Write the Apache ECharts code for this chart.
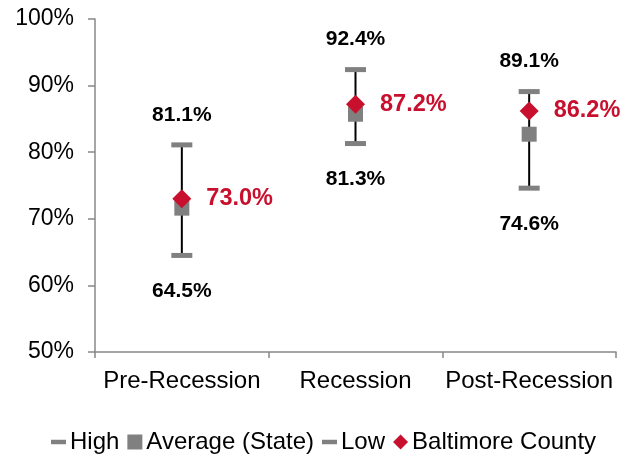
<!DOCTYPE html>
<html>
<head>
<meta charset="utf-8">
<script src="https://cdn.jsdelivr.net/npm/echarts@6/dist/echarts.min.js"></script>
<style>
  html, body { margin: 0; padding: 0; background: #fff; }
  #chart { width: 633px; height: 455px; }
</style>
</head>
<body>
<div id="chart"></div>
<script>
// Periods on the horizontal axis
const periods = ['Pre-Recession', 'Recession', 'Post-Recession'];
// State range (percent) for each period
const highValues = [81.1, 92.4, 89.1];
const lowValues = [64.5, 81.3, 74.6];
const stateAverage = [71.6, 85.7, 82.7];
// County value (percent) for each period
const countyValues = [73.0, 87.2, 86.2];
// Vertical axis ticks
const yTicks = [50, 60, 70, 80, 90, 100];

const GRAY = '#808080';
const RED = '#C8102E';
const FONT = '"Liberation Sans", Arial, sans-serif';

const chart = echarts.init(document.getElementById('chart'));

const dashIcon = 'path://M0,0h10v3h-10z';
const pct = p => p.value.toFixed(1) + '%';

chart.setOption({
  animation: false,
  textStyle: { fontFamily: FONT },
  grid: { left: 95, right: 17, top: 19, bottom: 103 },
  legend: {
    top: 425,
    left: 46,
    itemGap: 8,
    itemWidth: 15,
    itemHeight: 15,
    textStyle: { fontFamily: FONT, fontSize: 24, color: '#000', padding: [0, 0, 0, -1] },
    data: [
      { name: 'High', icon: dashIcon },
      { name: 'Average (State)', icon: 'rect' },
      { name: 'Low', icon: dashIcon },
      { name: 'Baltimore County', icon: 'diamond' }
    ]
  },
  xAxis: {
    type: 'category',
    data: periods,
    boundaryGap: true,
    axisLine: { lineStyle: { color: '#888', width: 1.5 } },
    axisTick: { show: true, length: 6, lineStyle: { color: '#888', width: 1.5 } },
    axisLabel: { interval: 0, fontSize: 24, color: '#000', margin: 17, fontFamily: FONT },
    splitLine: { show: false }
  },
  yAxis: {
    type: 'value',
    min: yTicks[0],
    max: yTicks[yTicks.length - 1],
    interval: 10,
    axisLine: { show: true, lineStyle: { color: '#888', width: 1.5 } },
    axisTick: { show: true, length: 7, lineStyle: { color: '#888', width: 1.5 } },
    axisLabel: { fontSize: 23, color: '#000', margin: 21, fontFamily: FONT, formatter: v => v + '%' },
    splitLine: { show: false }
  },
  series: [
    {
      // vertical whisker from low to high
      name: 'range',
      type: 'custom',
      silent: true,
      z: 1,
      data: periods.map((p, i) => [i, lowValues[i], highValues[i]]),
      encode: { x: 0, y: [1, 2] },
      renderItem: function (params, api) {
        const lo = api.coord([api.value(0), api.value(1)]);
        const hi = api.coord([api.value(0), api.value(2)]);
        return {
          type: 'line',
          shape: { x1: lo[0], y1: lo[1], x2: hi[0], y2: hi[1] },
          style: { stroke: '#000', lineWidth: 2 }
        };
      }
    },
    {
      name: 'High',
      type: 'scatter',
      symbol: 'rect',
      symbolSize: [21, 5],
      z: 2,
      itemStyle: { color: GRAY, opacity: 1 },
      data: highValues,
      label: {
        show: true, position: 'top', distance: 17,
        fontSize: 21, fontWeight: 'bold', color: '#000', fontFamily: FONT,
        formatter: pct
      }
    },
    {
      name: 'Average (State)',
      type: 'scatter',
      symbol: 'rect',
      symbolSize: 15,
      z: 3,
      itemStyle: { color: GRAY, opacity: 1 },
      data: stateAverage
    },
    {
      name: 'Low',
      type: 'scatter',
      symbol: 'rect',
      symbolSize: [21, 5],
      z: 2,
      itemStyle: { color: GRAY, opacity: 1 },
      data: lowValues,
      label: {
        show: true, position: 'bottom', distance: 23,
        fontSize: 21, fontWeight: 'bold', color: '#000', fontFamily: FONT,
        formatter: pct
      }
    },
    {
      name: 'Baltimore County',
      type: 'scatter',
      symbol: 'diamond',
      symbolSize: 19,
      z: 4,
      itemStyle: { color: RED, opacity: 1 },
      data: countyValues,
      label: {
        show: true, position: 'right', distance: 15,
        fontSize: 23.5, fontWeight: 'bold', color: RED, fontFamily: FONT,
        formatter: pct
      }
    }
  ]
});
</script>
</body>
</html>
